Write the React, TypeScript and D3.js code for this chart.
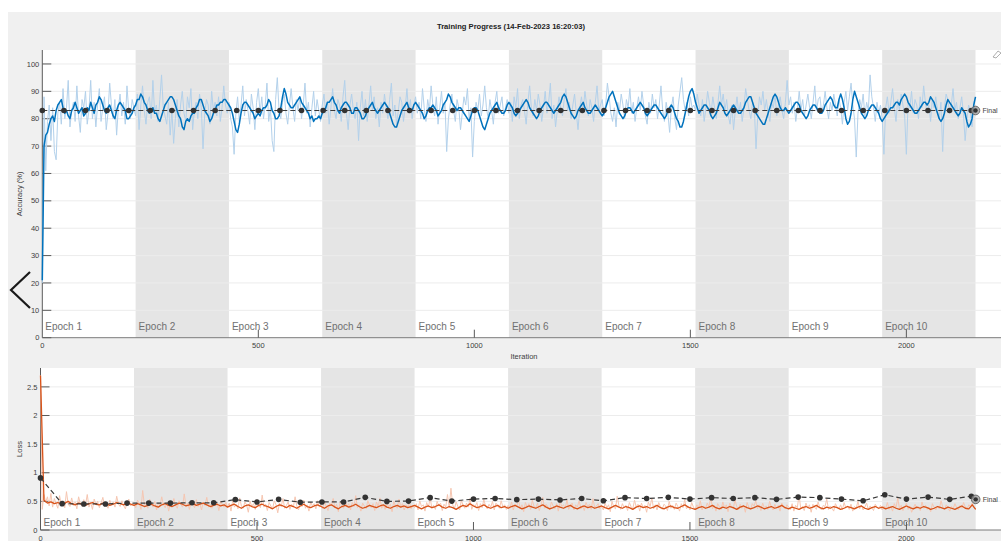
import React from "react";
import * as d3 from "d3";

const TITLE = "Training Progress (14-Feb-2023 16:20:03)";
const TOTAL_ITER = 2160;
const ITER_PER_EPOCH = 216;
const EPOCHS = ["Epoch 1", "Epoch 2", "Epoch 3", "Epoch 4", "Epoch 5", "Epoch 6", "Epoch 7", "Epoch 8", "Epoch 9", "Epoch 10"];
const RAW_STEP = 4; // iterations between raw samples
const ACC_SMOOTH_STEP = 4; // iterations between smoothed accuracy samples
const LOSS_SMOOTH_STEP = 8; // iterations between smoothed loss samples
const VAL_STEP = 50; // validation frequency

const xTicks = [0, 500, 1000, 1500, 2000];
const accTicks = [0, 10, 20, 30, 40, 50, 60, 70, 80, 90, 100];
const lossTicks = [0, 0.5, 1, 1.5, 2, 2.5];

// Mini-batch accuracy (%), every 4 iterations
const accRaw = [
  20, 88, 61, 79, 85, 72, 84, 68, 65, 82, 86, 78, 91, 80, 84, 94, 77, 83,
  86, 79, 92, 81, 75, 87, 84, 90, 78, 83, 94, 80, 86, 77, 85, 91, 79, 84,
  88, 76, 82, 93, 85, 80, 87, 74, 84, 89, 81, 86, 78, 92, 83, 80, 87, 84,
  81, 89, 76, 85, 92, 83, 78, 86, 88, 80, 94, 82, 85, 79, 87, 96, 84, 81,
  78, 86, 74, 83, 71, 80, 87, 77, 85, 90, 82, 79, 88, 84, 91, 76, 83, 86,
  80, 89, 84, 69, 82, 87, 85, 78, 90, 83, 86, 81, 88, 79, 84, 92, 85, 82,
  86, 80, 77, 67, 82, 88, 79, 85, 92, 81, 87, 83, 78, 89, 84, 76, 86, 91,
  82, 88, 80, 85, 93, 79, 84, 72, 68, 87, 95, 83, 80, 86, 89, 82, 78, 85,
  91, 84, 79, 87, 83, 88, 80, 85, 93, 82, 86, 77, 84, 90, 81, 87, 83, 79,
  85, 89, 82, 86, 78, 84, 91, 83, 80, 87, 85, 79, 88, 94, 82, 76, 85, 89,
  83, 80, 86, 72, 84, 90, 81, 87, 79, 85, 92, 83, 88, 80, 84, 77, 86, 82,
  89, 84, 80, 87, 93, 81, 85, 78, 83, 88, 86, 79, 84, 91, 82, 87, 80, 85,
  88, 82, 86, 80, 91, 84, 79, 87, 83, 92, 85, 81, 88, 78, 84, 90, 82, 86,
  68, 80, 85, 89, 83, 79, 87, 84, 76, 82, 88, 85, 91, 80, 84, 66, 79, 86,
  83, 89, 81, 85, 92, 84, 80, 87, 83, 78, 86, 90, 82, 85, 88, 81, 84, 87,
  82, 86, 79, 88, 84, 91, 80, 85, 87, 83, 78, 86, 92, 84, 81, 87, 83, 89,
  85, 79, 84, 90, 82, 86, 93, 80, 85, 77, 83, 88, 84, 81, 87, 91, 83, 86,
  80, 85, 89, 82, 76, 84, 88, 83, 90, 85, 81, 87, 84, 79, 86, 92, 83, 85,
  87, 81, 85, 93, 88, 82, 79, 84, 77, 86, 83, 89, 85, 80, 87, 84, 91, 82,
  86, 79, 84, 88, 83, 90, 85, 81, 78, 86, 82, 89, 84, 87, 80, 85, 92, 83,
  79, 86, 82, 75, 84, 88, 80, 76, 85, 90, 95, 87, 83, 86, 81, 88, 84, 85,
  83, 89, 85, 81, 87, 79, 84, 90, 86, 82, 88, 84, 80, 86, 92, 85, 89, 83,
  87, 81, 78, 85, 76, 83, 88, 82, 86, 79, 84, 91, 87, 83, 80, 86, 84, 69,
  81, 88, 85, 90, 83, 87, 82, 79, 86, 84, 89, 81, 85, 88, 83, 80, 86, 94,
  85, 88, 82, 86, 79, 84, 90, 83, 87, 81, 85, 89, 84, 80, 86, 92, 83, 87,
  88, 82, 85, 90, 84, 80, 86, 83, 89, 85, 81, 87, 84, 78, 86, 90, 83, 88,
  93, 85, 80, 66, 82, 87, 84, 89, 81, 86, 83, 96, 88, 84, 79, 86, 82, 85,
  80, 67, 84, 88, 82, 86, 91, 84, 79, 87, 83, 89, 85, 81, 67, 86, 84, 90,
  82, 87, 85, 80, 88, 84, 92, 86, 82, 85, 79, 87, 84, 88, 83, 80, 86, 68,
  84, 89, 87, 82, 85, 91, 83, 86, 80, 84, 88, 82, 72, 79, 85, 83, 77, 86,
  88,
];

// Smoothed accuracy (%), every 4 iterations
const accSmooth = [
  21, 70, 74, 75, 78, 80, 81, 79, 83, 85, 86, 87, 84, 82, 83, 81, 80, 83, 84, 86, 84, 82, 83, 84, 81, 82, 84, 83, 86, 84, 82, 85, 86, 88, 87, 85, 83, 82, 84, 85,
  83, 81, 80, 83, 85, 86, 85, 84, 83, 80, 80, 81, 82, 84, 85, 87, 87, 89, 88, 86, 85, 83, 82, 83, 84, 82, 82, 80, 79, 81, 83, 85, 86, 87, 88, 88, 87, 85, 83, 81,
  80, 77, 76, 79, 80, 79, 81, 82, 82, 84, 85, 87, 87, 85, 83, 82, 81, 79, 80, 82, 83, 85, 85, 86, 86, 87, 87, 86, 85, 84, 82, 79, 76, 75, 78, 82, 85, 86, 86, 85,
  84, 83, 82, 80, 81, 82, 81, 83, 84, 84, 85, 87, 86, 83, 82, 80, 80, 81, 84, 88, 91, 89, 86, 85, 84, 84, 85, 86, 87, 88, 86, 85, 84, 83, 82, 80, 81, 79, 80, 80,
  81, 80, 82, 83, 84, 86, 86, 87, 88, 86, 85, 83, 82, 84, 85, 86, 86, 85, 84, 82, 82, 84, 84, 83, 82, 80, 80, 81, 83, 84, 85, 86, 84, 83, 82, 83, 84, 85, 86, 85,
  84, 82, 80, 78, 77, 77, 79, 81, 83, 84, 85, 86, 84, 83, 83, 85, 86, 85, 84, 83, 82, 80, 81, 83, 84, 84, 85, 84, 83, 81, 82, 83, 85, 86, 87, 89, 88, 86, 85, 84,
  83, 84, 84, 83, 82, 81, 80, 79, 81, 83, 84, 84, 83, 81, 79, 77, 76, 78, 80, 82, 83, 84, 85, 86, 84, 83, 82, 82, 83, 85, 86, 85, 84, 82, 81, 82, 83, 84, 85, 86,
  87, 86, 84, 83, 82, 81, 80, 81, 83, 84, 85, 86, 86, 85, 84, 83, 82, 83, 84, 85, 86, 88, 89, 88, 86, 84, 82, 81, 80, 81, 83, 84, 85, 86, 84, 83, 82, 82, 83, 84,
  85, 84, 83, 82, 81, 82, 84, 86, 88, 89, 90, 88, 86, 84, 82, 81, 80, 81, 83, 84, 84, 83, 82, 83, 84, 85, 86, 85, 84, 82, 81, 82, 83, 84, 85, 85, 84, 83, 82, 81,
  80, 81, 83, 84, 85, 84, 82, 80, 79, 77, 77, 79, 82, 85, 88, 90, 91, 89, 86, 84, 82, 83, 84, 85, 85, 84, 83, 81, 80, 81, 82, 84, 86, 85, 84, 82, 81, 82, 83, 84,
  85, 84, 83, 82, 82, 83, 84, 86, 87, 88, 88, 86, 84, 82, 81, 80, 79, 78, 78, 80, 82, 84, 86, 88, 89, 88, 86, 84, 83, 83, 84, 83, 82, 83, 84, 85, 86, 86, 85, 83,
  82, 81, 80, 81, 83, 84, 85, 85, 84, 83, 82, 82, 83, 85, 86, 87, 88, 87, 85, 84, 84, 87, 89, 87, 84, 80, 78, 79, 82, 87, 90, 88, 86, 84, 82, 81, 80, 81, 83, 84,
  85, 85, 84, 83, 82, 80, 79, 80, 81, 82, 83, 84, 84, 85, 86, 86, 85, 87, 88, 89, 88, 86, 85, 84, 83, 82, 82, 83, 84, 85, 86, 86, 85, 86, 88, 87, 86, 84, 82, 80,
  79, 80, 82, 85, 87, 86, 85, 84, 83, 82, 81, 82, 84, 83, 82, 79, 77, 78, 80, 85, 88,
];

// Validation accuracy (%), every 50 iterations
const accVal = [
  83.0, 83.0, 83.0, 83.0, 83.0, 83.0, 83.0, 83.0, 83.0, 83.0, 83.0,
  83.0, 83.0, 83.0, 83.0, 83.0, 83.0, 83.0, 83.0, 83.0, 83.0, 83.0,
  83.0, 83.0, 83.0, 83.0, 83.0, 83.0, 83.0, 83.0, 83.0, 83.0, 83.0,
  83.0, 83.0, 83.0, 83.0, 83.0, 83.0, 83.0, 83.0, 83.0, 83.0, 83.0,
];
const accFinal = 83.0;

// Mini-batch loss, every 4 iterations
const lossRaw = [
  2.70, 0.36, 0.62, 0.48, 0.58, 0.42, 0.64, 0.40, 0.55, 0.46, 0.38, 0.60, 0.44, 0.51, 0.39, 0.67, 0.45, 0.41,
  0.56, 0.43, 0.49, 0.37, 0.58, 0.46, 0.41, 0.53, 0.44, 0.62, 0.40, 0.48, 0.36, 0.54, 0.45, 0.50, 0.39, 0.47,
  0.57, 0.42, 0.46, 0.38, 0.52, 0.44, 0.49, 0.40, 0.59, 0.45, 0.41, 0.51, 0.43, 0.37, 0.48, 0.54, 0.42, 0.46,
  0.44, 0.39, 0.52, 0.47, 0.36, 0.69, 0.43, 0.48, 0.38, 0.54, 0.45, 0.40, 0.50, 0.35, 0.47, 0.42, 0.58, 0.44,
  0.39, 0.49, 0.33, 0.46, 0.41, 0.55, 0.43, 0.38, 0.51, 0.45, 0.40, 0.63, 0.42, 0.47, 0.36, 0.50, 0.44, 0.39,
  0.53, 0.41, 0.46, 0.35, 0.49, 0.43, 0.57, 0.40, 0.45, 0.38, 0.52, 0.42, 0.47, 0.34, 0.50, 0.44, 0.40, 0.48,
  0.41, 0.47, 0.33, 0.52, 0.40, 0.45, 0.37, 0.56, 0.42, 0.38, 0.49, 0.44, 0.31, 0.50, 0.41, 0.46, 0.36, 0.53,
  0.43, 0.39, 0.61, 0.40, 0.45, 0.34, 0.48, 0.42, 0.37, 0.51, 0.44, 0.30, 0.47, 0.41, 0.55, 0.38, 0.43, 0.49,
  0.36, 0.45, 0.40, 0.58, 0.42, 0.35, 0.47, 0.41, 0.52, 0.38, 0.44, 0.33, 0.49, 0.42, 0.46, 0.37, 0.51, 0.40,
  0.44, 0.37, 0.50, 0.41, 0.34, 0.47, 0.43, 0.55, 0.39, 0.45, 0.32, 0.49, 0.42, 0.38, 0.52, 0.40, 0.46, 0.35,
  0.48, 0.41, 0.60, 0.39, 0.44, 0.33, 0.47, 0.42, 0.37, 0.51, 0.43, 0.39, 0.46, 0.34, 0.49, 0.41, 0.56, 0.38,
  0.43, 0.36, 0.48, 0.40, 0.45, 0.32, 0.50, 0.42, 0.38, 0.54, 0.41, 0.46, 0.35, 0.44, 0.40, 0.49, 0.37, 0.43,
  0.39, 0.46, 0.35, 0.51, 0.41, 0.44, 0.33, 0.48, 0.40, 0.56, 0.38, 0.43, 0.36, 0.50, 0.42, 0.47, 0.34, 0.45,
  0.40, 0.62, 0.39, 0.73, 0.44, 0.37, 0.49, 0.41, 0.35, 0.52, 0.43, 0.38, 0.47, 0.40, 0.55, 0.36, 0.44, 0.41,
  0.48, 0.34, 0.46, 0.39, 0.53, 0.42, 0.37, 0.45, 0.40, 0.50, 0.35, 0.47, 0.42, 0.38, 0.51, 0.40, 0.44, 0.36,
  0.43, 0.38, 0.49, 0.35, 0.45, 0.41, 0.54, 0.37, 0.44, 0.32, 0.48, 0.40, 0.46, 0.36, 0.52, 0.41, 0.39, 0.47,
  0.34, 0.43, 0.57, 0.38, 0.45, 0.40, 0.35, 0.49, 0.42, 0.37, 0.46, 0.33, 0.50, 0.41, 0.44, 0.38, 0.53, 0.36,
  0.42, 0.47, 0.35, 0.44, 0.40, 0.51, 0.37, 0.43, 0.34, 0.48, 0.41, 0.45, 0.36, 0.55, 0.39, 0.42, 0.46, 0.37,
  0.41, 0.35, 0.47, 0.39, 0.44, 0.32, 0.50, 0.40, 0.37, 0.59, 0.42, 0.36, 0.46, 0.39, 0.43, 0.34, 0.48, 0.41,
  0.37, 0.52, 0.40, 0.45, 0.33, 0.47, 0.39, 0.43, 0.31, 0.49, 0.41, 0.56, 0.37, 0.44, 0.35, 0.48, 0.40, 0.36,
  0.45, 0.42, 0.34, 0.50, 0.38, 0.43, 0.36, 0.47, 0.41, 0.33, 0.46, 0.39, 0.53, 0.37, 0.42, 0.35, 0.48, 0.40,
  0.36, 0.44, 0.39, 0.51, 0.35, 0.42, 0.38, 0.47, 0.40, 0.58, 0.37, 0.43, 0.33, 0.46, 0.41, 0.36, 0.49, 0.39,
  0.44, 0.32, 0.47, 0.40, 0.37, 0.53, 0.41, 0.35, 0.45, 0.38, 0.43, 0.31, 0.48, 0.40, 0.36, 0.46, 0.42, 0.51,
  0.37, 0.44, 0.34, 0.47, 0.39, 0.42, 0.36, 0.50, 0.40, 0.35, 0.45, 0.38, 0.43, 0.33, 0.47, 0.41, 0.37, 0.44,
  0.40, 0.36, 0.46, 0.33, 0.43, 0.39, 0.61, 0.37, 0.41, 0.34, 0.47, 0.38, 0.44, 0.31, 0.45, 0.40, 0.36, 0.49,
  0.39, 0.35, 0.43, 0.41, 0.54, 0.36, 0.42, 0.38, 0.33, 0.46, 0.40, 0.37, 0.44, 0.35, 0.48, 0.39, 0.42, 0.36,
  0.45, 0.33, 0.41, 0.38, 0.50, 0.37, 0.43, 0.35, 0.40, 0.47, 0.36, 0.42, 0.39, 0.34, 0.45, 0.40, 0.37, 0.43,
  0.35, 0.42, 0.38, 0.48, 0.36, 0.41, 0.33, 0.46, 0.39, 0.56, 0.37, 0.43, 0.34, 0.40, 0.47, 0.36, 0.42, 0.31,
  0.39, 0.45, 0.37, 0.41, 0.34, 0.49, 0.38, 0.43, 0.36, 0.40, 0.32, 0.46, 0.39, 0.35, 0.42, 0.37, 0.51, 0.40,
  0.36, 0.44, 0.38, 0.33, 0.41, 0.37, 0.46, 0.39, 0.35, 0.43, 0.38, 0.48, 0.40, 0.36, 0.44, 0.41, 0.47, 0.39,
  0.36,
];

// Smoothed loss, every 8 iterations
const lossSmooth = [
  2.70, 0.52, 0.47, 0.49, 0.46, 0.48, 0.45, 0.47, 0.50, 0.46, 0.44, 0.47, 0.45, 0.43, 0.46, 0.48, 0.45, 0.44, 0.47, 0.46, 0.43, 0.45, 0.48, 0.46, 0.44, 0.47, 0.45,
  0.43, 0.46, 0.44, 0.41, 0.43, 0.45, 0.42, 0.40, 0.44, 0.46, 0.43, 0.41, 0.44, 0.47, 0.45, 0.42, 0.44, 0.46, 0.43, 0.45, 0.47, 0.44, 0.41, 0.43, 0.45, 0.42, 0.44,
  0.40, 0.43, 0.45, 0.41, 0.38, 0.42, 0.44, 0.41, 0.39, 0.43, 0.45, 0.42, 0.40, 0.37, 0.41, 0.44, 0.42, 0.39, 0.43, 0.41, 0.38, 0.42, 0.45, 0.41, 0.39, 0.42, 0.44,
  0.41, 0.38, 0.42, 0.44, 0.40, 0.37, 0.41, 0.43, 0.40, 0.42, 0.45, 0.41, 0.38, 0.40, 0.43, 0.41, 0.39, 0.42, 0.44, 0.40, 0.38, 0.41, 0.43, 0.40, 0.42, 0.39, 0.41,
  0.43, 0.40, 0.37, 0.40, 0.42, 0.39, 0.41, 0.44, 0.40, 0.38, 0.41, 0.39, 0.36, 0.40, 0.43, 0.41, 0.46, 0.42, 0.39, 0.41, 0.44, 0.40, 0.38, 0.41, 0.43, 0.39, 0.41,
  0.38, 0.41, 0.43, 0.40, 0.37, 0.39, 0.42, 0.40, 0.38, 0.41, 0.44, 0.40, 0.37, 0.39, 0.42, 0.40, 0.38, 0.41, 0.43, 0.39, 0.37, 0.40, 0.42, 0.39, 0.41, 0.38, 0.40,
  0.42, 0.39, 0.37, 0.40, 0.43, 0.40, 0.38, 0.41, 0.39, 0.36, 0.40, 0.42, 0.39, 0.41, 0.38, 0.40, 0.43, 0.39, 0.37, 0.40, 0.42, 0.39, 0.38, 0.41, 0.44, 0.40, 0.38,
  0.36, 0.39, 0.41, 0.38, 0.40, 0.43, 0.39, 0.37, 0.40, 0.38, 0.41, 0.39, 0.36, 0.40, 0.42, 0.39, 0.37, 0.39, 0.42, 0.40, 0.37, 0.39, 0.41, 0.38, 0.40, 0.43, 0.39,
  0.37, 0.40, 0.38, 0.36, 0.39, 0.41, 0.38, 0.40, 0.43, 0.39, 0.37, 0.40, 0.38, 0.41, 0.39, 0.36, 0.38, 0.41, 0.39, 0.37, 0.40, 0.42, 0.38, 0.36, 0.39, 0.41, 0.38,
  0.40, 0.37, 0.39, 0.41, 0.38, 0.36, 0.39, 0.42, 0.39, 0.37, 0.40, 0.38, 0.41, 0.39, 0.36, 0.38, 0.41, 0.39, 0.37, 0.40, 0.38, 0.36, 0.39, 0.42, 0.38, 0.37, 0.44,
  0.36,
];

// Validation loss, every 50 iterations
const lossVal = [
  0.91, 0.46, 0.455, 0.455, 0.47, 0.47, 0.47, 0.475, 0.475, 0.53, 0.49,
  0.535, 0.485, 0.49, 0.49, 0.57, 0.50, 0.505, 0.565, 0.505, 0.54, 0.55,
  0.53, 0.54, 0.525, 0.55, 0.51, 0.565, 0.55, 0.57, 0.54, 0.565, 0.55,
  0.565, 0.535, 0.575, 0.565, 0.54, 0.51, 0.615, 0.54, 0.575, 0.535, 0.59,
];
const lossFinal = 0.535;

const FONT = "'Liberation Sans', Arial, sans-serif";
const W = 1001;
const H = 541;

type PanelProps = {
  left: number;
  top: number;
  bottom: number;
  xEnd: number;
  yMax: number;
  ticks: number[];
  yLabel: string;
  raw: number[];
  smooth: number[];
  smoothStep: number;
  val: number[];
  finalVal: number;
  rawColor: string;
  smoothColor: string;
  smoothWidth: number;
  showXTitle: boolean;
  epochBaseline: number;
};

function withIterations(vals: number[], step: number): [number, number][] {
  return vals.map((v, i) => [i * step, v] as [number, number]);
}

function Panel(p: PanelProps) {
  const x = d3.scaleLinear().domain([0, TOTAL_ITER]).range([p.left, p.xEnd]);
  const y = d3.scaleLinear().domain([0, p.yMax]).range([p.bottom, p.top]);

  const line = d3
    .line<[number, number]>()
    .x((d) => x(d[0]))
    .y((d) => y(d[1]));

  const rawPts = withIterations(p.raw, RAW_STEP);
  const smoothPts = withIterations(p.smooth, p.smoothStep);
  const valPts = withIterations(p.val, VAL_STEP).concat([[TOTAL_ITER, p.finalVal]]);

  return (
    <g>
      <rect x={p.left} y={p.top} width={W - p.left} height={p.bottom - p.top} fill="#ffffff" />
      {EPOCHS.map((label, i) =>
        i % 2 === 1 ? (
          <rect
            key={"s" + label}
            x={x(i * ITER_PER_EPOCH)}
            y={p.top}
            width={x((i + 1) * ITER_PER_EPOCH) - x(i * ITER_PER_EPOCH)}
            height={p.bottom - p.top}
            fill="#e5e5e5"
          />
        ) : null
      )}
      {p.ticks
        .filter((t) => t > 0)
        .map((t) => (
          <line key={"g" + t} x1={p.left} x2={W} y1={y(t)} y2={y(t)} stroke="#ececec" strokeWidth={1} />
        ))}
      {EPOCHS.map((label, i) => (
        <text
          key={"e" + label}
          x={x(i * ITER_PER_EPOCH) + 3}
          y={p.epochBaseline}
          fontSize={10}
          fill="#707070"
          fontFamily={FONT}
        >
          {label}
        </text>
      ))}
      <line x1={p.left} x2={p.left} y1={p.top} y2={p.bottom} stroke="#5a5a5a" strokeWidth={1} />
      <line x1={p.left} x2={W} y1={p.bottom} y2={p.bottom} stroke="#7a7a7a" strokeWidth={1} />
      {p.ticks.map((t) => (
        <g key={"t" + t}>
          <line x1={p.left} x2={p.left + 9} y1={y(t)} y2={y(t)} stroke="#5a5a5a" strokeWidth={1} />
          <text
            x={p.left - 3}
            y={y(t)}
            dy="0.35em"
            textAnchor="end"
            fontSize={7.5}
            fill="#404040"
            fontFamily={FONT}
          >
            {String(t)}
          </text>
        </g>
      ))}
      {xTicks.map((t) => (
        <g key={"x" + t}>
          {t > 0 && <line x1={x(t)} x2={x(t)} y1={p.bottom - 8} y2={p.bottom} stroke="#5a5a5a" strokeWidth={1} />}
          <text x={x(t)} y={p.bottom + 10.5} textAnchor="middle" fontSize={7.5} fill="#404040" fontFamily={FONT}>
            {t}
          </text>
        </g>
      ))}
      {p.showXTitle && (
        <text x={524} y={p.bottom + 21} textAnchor="middle" fontSize={7.5} fill="#404040" fontFamily={FONT}>
          Iteration
        </text>
      )}
      <text
        transform={`translate(22,${(p.top + p.bottom) / 2}) rotate(-90)`}
        textAnchor="middle"
        fontSize={7.5}
        fill="#404040"
        fontFamily={FONT}
      >
        {p.yLabel}
      </text>
      <path d={line(rawPts) || ""} fill="none" stroke={p.rawColor} strokeWidth={1} strokeLinejoin="round" />
      <path d={line(smoothPts) || ""} fill="none" stroke={p.smoothColor} strokeWidth={p.smoothWidth} strokeLinejoin="round" />
      <path d={line(valPts) || ""} fill="none" stroke="#3a3a3a" strokeWidth={1.2} strokeDasharray="5,3" />
      {p.val.map((v, i) => (
        <circle key={"v" + i} cx={x(i * VAL_STEP)} cy={y(v)} r={2.8} fill="#333333" />
      ))}
      <circle cx={x(TOTAL_ITER)} cy={y(p.finalVal)} r={4.3} fill="#9a9a9a" fillOpacity={0.75} stroke="#555" strokeWidth={0.8} />
      <circle cx={x(TOTAL_ITER)} cy={y(p.finalVal)} r={2.2} fill="#333333" />
      <text x={x(TOTAL_ITER) + 7} y={y(p.finalVal)} dy="0.35em" fontSize={7} fill="#444" fontFamily={FONT}>
        Final
      </text>
    </g>
  );
}

export default function App() {
  return (
    <div style={{ position: "absolute", left: 0, top: 0 }}>
      <svg width={W} height={H} style={{ display: "block" }}>
        <rect x={0} y={0} width={W} height={H} fill="#ffffff" />
        <rect x={8} y={12} width={W - 8} height={H - 12} fill="#f0f0f0" />
        <text x={511} y={29} textAnchor="middle" fontSize={7.6} fontWeight="bold" fill="#222" fontFamily={FONT}>
          {TITLE}
        </text>
        <Panel
          left={42.3}
          top={50}
          bottom={337.7}
          xEnd={975.5}
          yMax={105.1}
          ticks={accTicks}
          yLabel="Accuracy (%)"
          raw={accRaw}
          smooth={accSmooth}
          smoothStep={ACC_SMOOTH_STEP}
          val={accVal}
          finalVal={accFinal}
          rawColor="#b3d1eb"
          smoothColor="#0072BD"
          smoothWidth={1.5}
          showXTitle={true}
          epochBaseline={330}
        />
        <Panel
          left={40.5}
          top={368}
          bottom={530}
          xEnd={975.7}
          yMax={2.83}
          ticks={lossTicks}
          yLabel="Loss"
          raw={lossRaw}
          smooth={lossSmooth}
          smoothStep={LOSS_SMOOTH_STEP}
          val={lossVal}
          finalVal={lossFinal}
          rawColor="#f6c6b1"
          smoothColor="#D95319"
          smoothWidth={1.3}
          showXTitle={false}
          epochBaseline={525.5}
        />
        {/* axes toolbar glyph */}
        <path d="M993,57 L998,51 L1001,53 L996,58 Z" fill="none" stroke="#9a9a9a" strokeWidth={0.8} />
        {/* back navigation chevron */}
        <path d="M30,272 L11,290 L30,308" fill="none" stroke="#1a1a1a" strokeWidth={2.2} />
      </svg>
    </div>
  );
}
